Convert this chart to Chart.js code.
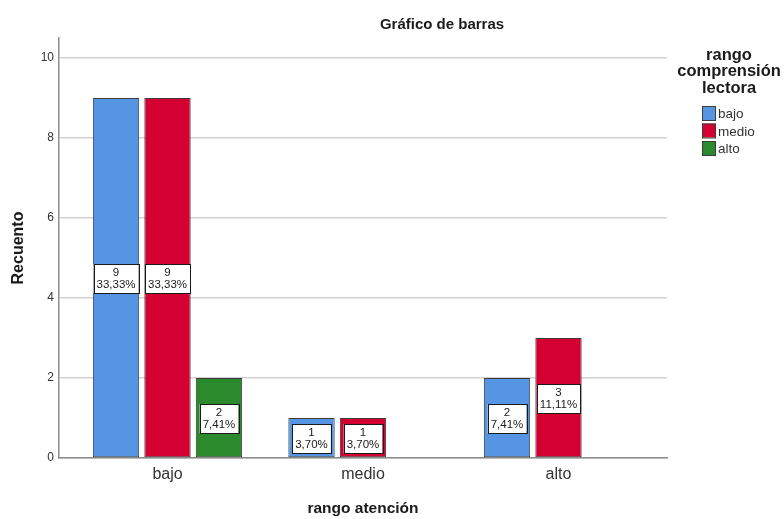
<!DOCTYPE html>
<html lang="es">
<head>
<meta charset="utf-8">
<title>Gráfico de barras</title>
<script src="https://cdn.jsdelivr.net/npm/chart.js@4.4.1/dist/chart.umd.min.js"></script>
<style>
  html, body { margin: 0; padding: 0; background: #fff; }
  #wrap { width: 784px; height: 519px; }
</style>
</head>
<body>
<div id="wrap"><canvas id="grafico"></canvas></div>
<script>
// Datos (recuentos)
const categorias = ['bajo', 'medio', 'alto'];   // rango atención
const serieBajo  = [9, 1, 2];                    // rango comprensión lectora = bajo
const serieMedio = [9, 1, 3];                    // = medio
const serieAlto  = [2, 0, 0];                    // = alto
const nombresSeries = ['bajo', 'medio', 'alto'];
const ticksY = [0, 2, 4, 6, 8, 10];

const titulo = 'Gráfico de barras';
const tituloLeyenda = ['rango', 'comprensión', 'lectora'];
const coloresSeries = ['#5595e4', '#d50032', '#2b8a2b'];

const FUENTE = "'Liberation Sans', Arial, sans-serif";

// total para los porcentajes de las etiquetas
const total = [...serieBajo, ...serieMedio, ...serieAlto].reduce((a, b) => a + b, 0);
function porcentaje(v) {
    return (v / total * 100).toFixed(2).replace('.', ',') + '%';
}

// Título del gráfico
const pluginTitulo = {
    id: 'titulo',
    afterDraw(chart) {
        const ctx = chart.ctx;
        ctx.save();
        ctx.font = 'bold 15px ' + FUENTE;
        ctx.fillStyle = '#1a1a1a';
        ctx.textAlign = 'center';
        ctx.textBaseline = 'middle';
        ctx.fillText(titulo, 442, 25);
        ctx.restore();
    }
};

// Etiquetas "n / %" dentro de cada barra
const pluginEtiquetas = {
    id: 'etiquetas',
    afterDatasetsDraw(chart) {
        const ctx = chart.ctx;
        ctx.save();
        ctx.font = '11.5px ' + FUENTE;
        ctx.textAlign = 'center';
        ctx.textBaseline = 'middle';
        chart.data.datasets.forEach((ds, i) => {
            const meta = chart.getDatasetMeta(i);
            meta.data.forEach((barra, j) => {
                const v = ds.data[j];
                if (!v) return;
                const l1 = String(v);
                const l2 = porcentaje(v);
                const w = Math.max(ctx.measureText(l1).width, ctx.measureText(l2).width) + 6;
                const h = 29;
                const cx = barra.x;
                const cy = (barra.y + barra.base) / 2 + 1;
                ctx.fillStyle = '#ffffff';
                ctx.fillRect(cx - w / 2, cy - h / 2, w, h);
                ctx.strokeStyle = '#1a1a1a';
                ctx.lineWidth = 1;
                ctx.strokeRect(Math.round(cx - w / 2) + 0.5, Math.round(cy - h / 2) + 0.5, Math.round(w), h);
                ctx.fillStyle = '#1a1a1a';
                ctx.fillText(l1, cx, cy - 6);
                ctx.fillText(l2, cx, cy + 6);
            });
        });
        ctx.restore();
    }
};

// Leyenda a la derecha, al estilo SPSS
const pluginLeyenda = {
    id: 'leyendaSpss',
    afterDraw(chart) {
        const ctx = chart.ctx;
        const cx = 729;
        ctx.save();
        ctx.font = 'bold 16.5px ' + FUENTE;
        ctx.fillStyle = '#1a1a1a';
        ctx.textAlign = 'center';
        ctx.textBaseline = 'middle';
        tituloLeyenda.forEach((t, k) => ctx.fillText(t, cx, 55 + k * 16.7));

        ctx.font = '13.5px ' + FUENTE;
        ctx.textAlign = 'left';
        chart.data.datasets.forEach((ds, i) => {
            const y = 113 + i * 17.5;
            ctx.fillStyle = ds.backgroundColor;
            ctx.fillRect(702, y - 7, 13, 14);
            ctx.strokeStyle = '#3c3c3c';
            ctx.lineWidth = 1;
            ctx.strokeRect(702.5, y - 6.5, 13, 14);
            ctx.fillStyle = '#333333';
            ctx.fillText(ds.label, 718, y + 1.5);
        });
        ctx.restore();
    }
};

const datasets = [serieBajo, serieMedio, serieAlto].map((serie, i) => ({
    label: nombresSeries[i],
    data: serie,
    backgroundColor: coloresSeries[i],
    borderColor: '#3c3c3c',
    borderWidth: c => (c.raw ? 1 : 0),
    borderSkipped: false,
    categoryPercentage: 0.79,
    barPercentage: 0.9
}));

new Chart(document.getElementById('grafico'), {
    type: 'bar',
    data: { labels: categorias, datasets: datasets },
    plugins: [pluginTitulo, pluginEtiquetas, pluginLeyenda],
    options: {
        responsive: true,
        maintainAspectRatio: false,
        animation: false,
        layout: { padding: { top: 38, right: 117, left: 0, bottom: 0 } },
        plugins: {
            legend: { display: false },
            title: { display: false },
            tooltip: { enabled: false }
        },
        scales: {
            x: {
                grid: { drawOnChartArea: false, drawTicks: false },
                border: { display: true, color: '#8c8c8c', width: 1.5 },
                ticks: { color: '#333333', padding: 7, font: { family: FUENTE, size: 16 } },
                title: {
                    display: true,
                    text: 'rango atención',
                    color: '#1a1a1a',
                    padding: { top: 0, bottom: 1 },
                    font: { family: FUENTE, size: 15.5, weight: 'bold' }
                },
                afterBuildTicks(s) {
                    // márgenes laterales de los grupos como en el original
                    s._startValue = -0.555;
                    s._valueRange = 3.11;
                },
                afterFit(s) { s.height = 61; }
            },
            y: {
                min: 0,
                max: 10.5,
                afterBuildTicks(s) { s.ticks = ticksY.map(v => ({ value: v })); },
                grid: { color: '#d2d2d2', lineWidth: 1.5, drawTicks: false },
                border: { display: true, color: '#8c8c8c', width: 1.5 },
                ticks: { color: '#333333', padding: 5, font: { family: FUENTE, size: 12 } },
                title: {
                    display: true,
                    text: 'Recuento',
                    color: '#1a1a1a',
                    padding: { top: 9, bottom: 0 },
                    font: { family: FUENTE, size: 16, weight: 'bold' }
                },
                afterFit(s) { s.width = 59; }
            }
        }
    }
});
</script>
</body>
</html>
